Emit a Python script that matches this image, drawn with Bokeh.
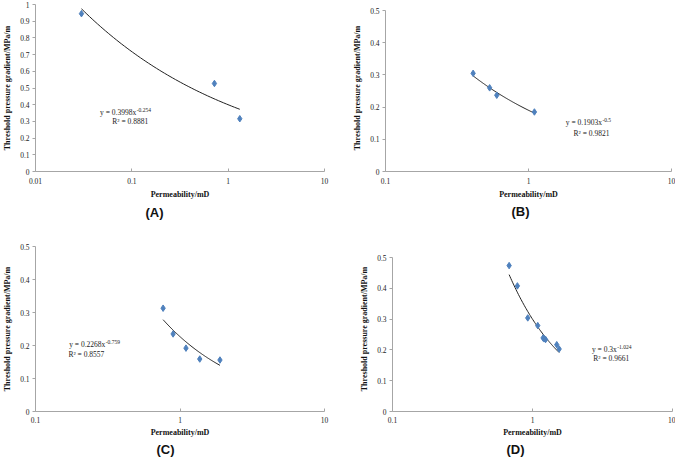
import numpy as np
from bokeh.plotting import figure
from bokeh.models import FixedTicker, CustomJSTickFormatter, Label, Title, ColumnDataSource
from bokeh.layouts import column, row
from bokeh.embed import file_html
from bokeh.resources import INLINE

# ---------------- data ----------------
# Panel A
a_perm = [0.03, 0.72, 1.32]
a_tpg = [0.945, 0.527, 0.316]
a_coef, a_expo, a_r2 = 0.3998, -0.254, "0.8881"
# Panel B
b_perm = [0.41, 0.535, 0.60, 1.10]
b_tpg = [0.305, 0.260, 0.237, 0.185]
b_coef, b_expo, b_r2 = 0.1903, -0.5, "0.9821"
# Panel C
c_perm = [0.764, 0.896, 1.10, 1.37, 1.89]
c_tpg = [0.313, 0.235, 0.192, 0.159, 0.156]
c_coef, c_expo, c_r2 = 0.2268, -0.759, "0.8557"
# Panel D
d_perm = [0.681, 0.780, 0.925, 1.09, 1.19, 1.21, 1.24, 1.49, 1.55]
d_tpg = [0.474, 0.408, 0.304, 0.279, 0.239, 0.236, 0.234, 0.217, 0.203]
d_coef, d_expo, d_r2 = 0.3, -1.024, "0.9661"

x_ticks_a = [0.01, 0.1, 1, 10]
x_ticks = [0.1, 1, 10]
y_ticks_a = [0, 0.1, 0.2, 0.3, 0.4, 0.5, 0.6, 0.7, 0.8, 0.9, 1]
y_ticks = [0, 0.1, 0.2, 0.3, 0.4, 0.5]

coef_text = {"A": "0.3998", "B": "0.1903", "C": "0.2268", "D": "0.3"}
expo_text = {"A": "-0.254", "B": "-0.5", "C": "-0.759", "D": "-1.024"}

SERIF = "Liberation Serif"
SANS = "Liberation Sans"
BLUE = "#4F81BD"
AXIS = "#A6A6A6"

fmt_code = "return tick.toString();"


def make_panel(tag, perm, tpg, coef, expo, r2, xticks, yticks, y_top,
               fw, fh, bl, br, bt, bb, eq_xy, r2_xy, title_offset,
               title_standoff, lab_standoff, ax_standoff):
    p = figure(frame_width=fw, frame_height=fh, x_axis_type="log",
               x_range=(xticks[0], xticks[-1]), y_range=(yticks[0], y_top),
               output_backend="svg", toolbar_location=None,
               min_border_left=bl, min_border_right=br,
               min_border_top=bt, min_border_bottom=bb)
    p.background_fill_color = "white"
    p.border_fill_color = "white"
    p.outline_line_color = None
    p.grid.visible = False

    # trendline from the displayed power-law fit
    xs = np.geomspace(min(perm), max(perm), 60)
    ys = coef * xs ** expo
    p.line(xs, ys, line_color="#222222", line_width=1)

    src = ColumnDataSource(dict(x=perm, y=tpg))
    p.scatter("x", "y", source=src, marker="diamond", size=6.5,
              fill_color=BLUE, line_color=BLUE)

    for ax in (p.xaxis[0], p.yaxis[0]):
        ax.axis_line_color = AXIS
        ax.major_tick_line_color = AXIS
        ax.minor_tick_line_color = None
        ax.major_label_text_font = SERIF
        ax.major_label_text_font_size = "7.5px"
        ax.major_label_text_color = "#222222"
        ax.axis_label_text_font = SERIF
        ax.axis_label_text_font_size = "8px"
        ax.axis_label_text_font_style = "bold"
        ax.axis_label_text_color = "#111111"
        ax.formatter = CustomJSTickFormatter(code=fmt_code)

    p.xaxis.ticker = FixedTicker(ticks=xticks)
    p.yaxis.ticker = FixedTicker(ticks=yticks)
    p.yaxis.bounds = (yticks[0], yticks[-1])
    p.xaxis.major_tick_in = 3
    p.xaxis.major_tick_out = 0
    p.xaxis.major_label_standoff = lab_standoff
    p.xaxis.axis_label_standoff = ax_standoff
    p.yaxis.major_tick_in = 0
    p.yaxis.major_tick_out = 3
    p.yaxis.major_label_standoff = 3
    p.yaxis.axis_label_standoff = 5
    p.xaxis.axis_label = "Permeability/mD"
    p.yaxis.axis_label = "Threshold pressure gradient/MPa/m"

    # equation labels
    ex, ey = eq_xy
    p.add_layout(Label(x=ex, y=ey, text="y = " + coef_text[tag] + "x",
                       text_align="right", text_baseline="middle",
                       text_font=SERIF, text_font_size="7.5px", text_color="#222222"))
    p.add_layout(Label(x=ex, y=ey, y_offset=3, x_offset=0.5, text=expo_text[tag],
                       text_align="left", text_baseline="middle",
                       text_font=SERIF, text_font_size="5.5px", text_color="#222222"))
    rx, ry = r2_xy
    p.add_layout(Label(x=rx, y=ry, text="R\u00b2 = " + r2,
                       text_align="center", text_baseline="middle",
                       text_font=SERIF, text_font_size="7.5px", text_color="#222222"))

    p.add_layout(Title(text="(" + tag + ")", align="left", offset=title_offset,
                       standoff=title_standoff,
                       text_font=SANS, text_font_size="13px", text_font_style="bold",
                       text_color="#111111"), "below")
    return p


# row 1: identical vertical geometry; row 2: identical vertical geometry
pa = make_panel("A", a_perm, a_tpg, a_coef, a_expo, a_r2, x_ticks_a, y_ticks_a, 1.0,
                289, 167, 28, 16, 4, 52, (0.111, 0.353), (0.0964, 0.298), 110, 2, 6, 3)
pb = make_panel("B", b_perm, b_tpg, b_coef, b_expo, b_r2, x_ticks, y_ticks, 0.519,
                286, 167, 45, 4, 4, 52, (3.26, 0.151), (2.76, 0.118), 126, 0, 6, 3)
pc = make_panel("C", c_perm, c_tpg, c_coef, c_expo, c_r2, x_ticks, y_ticks, 0.5,
                289, 165, 28, 16, 23, 46, (0.304, 0.202), (0.225, 0.173), 121, 0, 5, 2)
pd_ = make_panel("D", d_perm, d_tpg, d_coef, d_expo, d_r2, x_ticks, y_ticks, 0.536,
                 280, 165, 52, 3, 23, 46, (4.0, 0.201), (3.65, 0.171), 114, 0, 5, 2)

layout = column(row(pa, pb), row(pc, pd_))

open("out.html", "w").write(file_html(layout, INLINE))
